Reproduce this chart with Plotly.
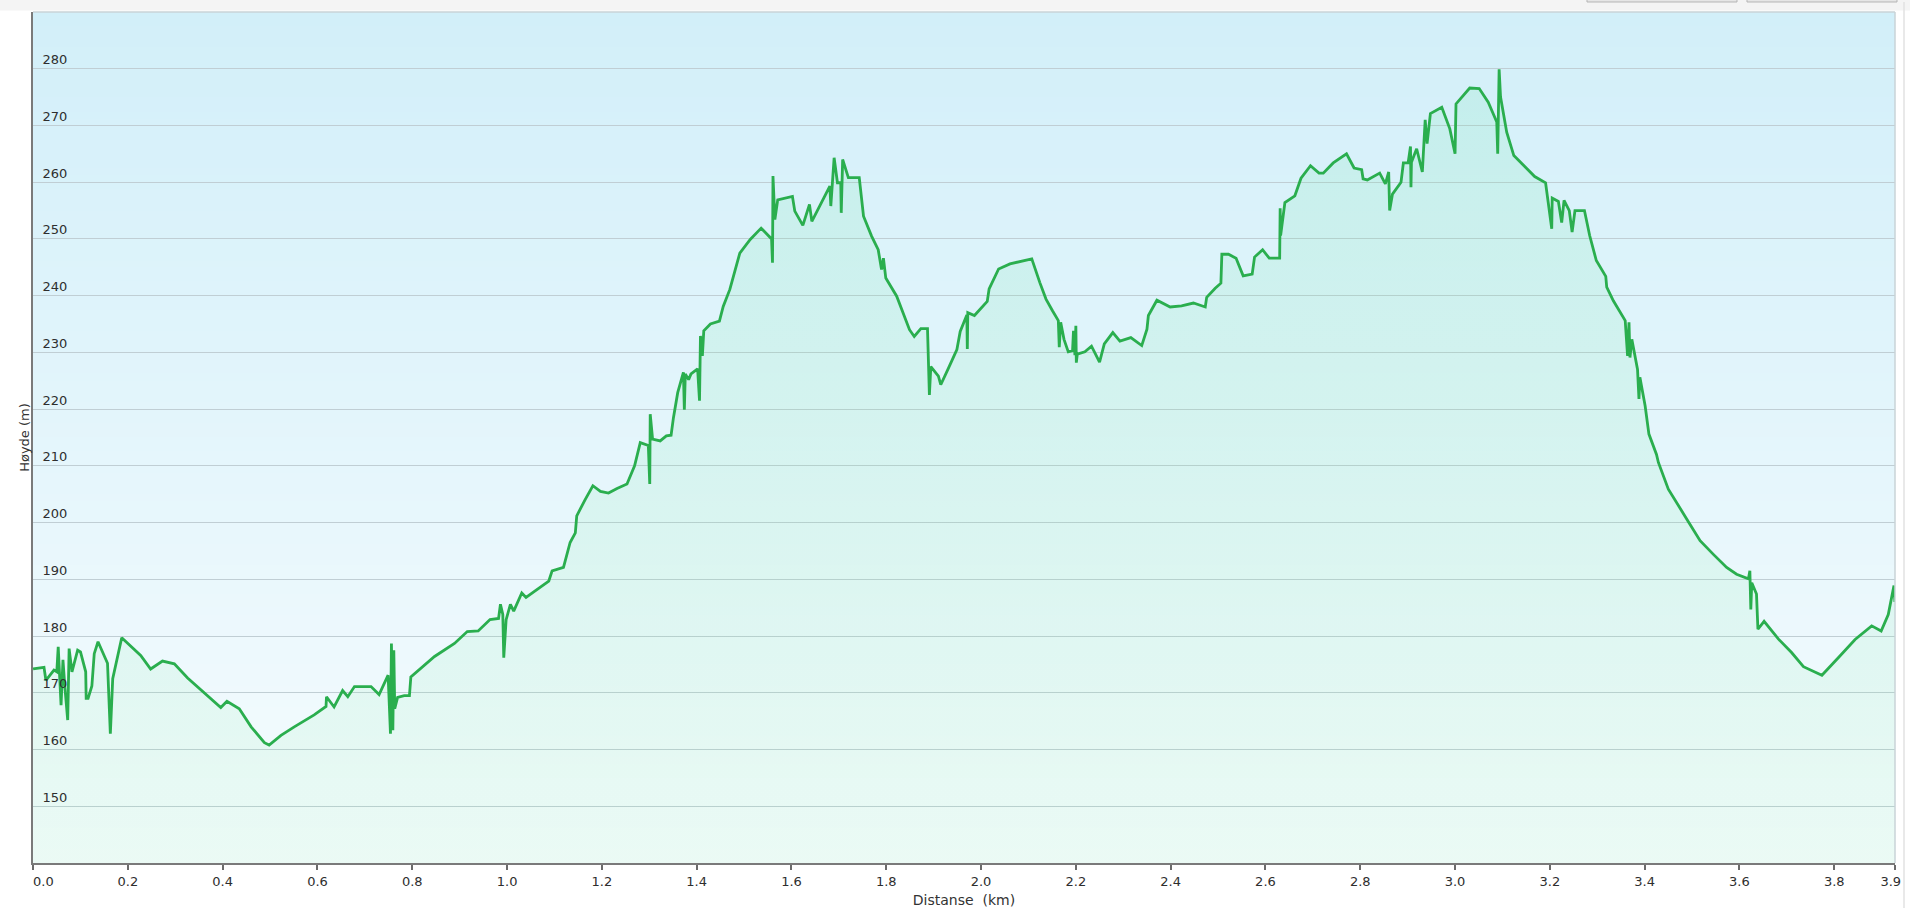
import plotly.graph_objects as go

# ---------------- data ----------------
DIST_KM = [
    0.000, 0.023, 0.027, 0.044, 0.050, 0.053, 0.059, 0.063, 0.067, 0.073,
    0.076, 0.082, 0.094, 0.100, 0.111, 0.112, 0.116, 0.124, 0.129, 0.137,
    0.157, 0.163, 0.168, 0.187, 0.227, 0.248, 0.273, 0.298, 0.326, 0.396,
    0.409, 0.435, 0.460, 0.488, 0.498, 0.523, 0.551, 0.593, 0.618, 0.619,
    0.635, 0.653, 0.664, 0.678, 0.713, 0.730, 0.749, 0.754, 0.756, 0.759,
    0.761, 0.763, 0.769, 0.783, 0.794, 0.797, 0.847, 0.889, 0.916, 0.939,
    0.964, 0.982, 0.986, 0.991, 0.993, 0.998, 1.007, 1.014, 1.031, 1.040,
    1.088, 1.095, 1.119, 1.133, 1.144, 1.147, 1.165, 1.181, 1.197, 1.214,
    1.232, 1.253, 1.269, 1.281, 1.298, 1.301, 1.302, 1.307, 1.323, 1.336,
    1.346, 1.351, 1.360, 1.372, 1.374, 1.376, 1.383, 1.388, 1.402, 1.406,
    1.408, 1.412, 1.415, 1.429, 1.448, 1.456, 1.470, 1.491, 1.513, 1.536,
    1.558, 1.560, 1.561, 1.565, 1.571, 1.602, 1.607, 1.624, 1.638, 1.643,
    1.681, 1.683, 1.690, 1.697, 1.704, 1.705, 1.708, 1.720, 1.743, 1.752,
    1.769, 1.783, 1.790, 1.794, 1.799, 1.822, 1.849, 1.859, 1.873, 1.887,
    1.891, 1.894, 1.910, 1.915, 1.931, 1.949, 1.956, 1.970, 1.971, 1.972,
    1.986, 2.013, 2.017, 2.037, 2.061, 2.107, 2.124, 2.137, 2.151, 2.163,
    2.165, 2.168, 2.175, 2.184, 2.193, 2.195, 2.198, 2.200, 2.201, 2.203,
    2.219, 2.233, 2.250, 2.260, 2.278, 2.293, 2.316, 2.339, 2.350, 2.353,
    2.371, 2.399, 2.423, 2.448, 2.473, 2.476, 2.494, 2.506, 2.508, 2.522,
    2.538, 2.553, 2.572, 2.577, 2.594, 2.608, 2.630, 2.631, 2.632, 2.641,
    2.662, 2.675, 2.695, 2.713, 2.722, 2.743, 2.771, 2.787, 2.803, 2.806,
    2.815, 2.841, 2.853, 2.860, 2.862, 2.868, 2.886, 2.891, 2.901, 2.906,
    2.907, 2.908, 2.919, 2.931, 2.937, 2.941, 2.948, 2.972, 2.989, 3.000,
    3.002, 3.031, 3.051, 3.070, 3.088, 3.090, 3.093, 3.096, 3.109, 3.124,
    3.168, 3.191, 3.204, 3.205, 3.218, 3.225, 3.230, 3.241, 3.247, 3.253,
    3.273, 3.284, 3.298, 3.318, 3.320, 3.334, 3.359, 3.364, 3.367, 3.369,
    3.373, 3.385, 3.388, 3.390, 3.401, 3.409, 3.425, 3.429, 3.450, 3.489,
    3.517, 3.545, 3.573, 3.594, 3.619, 3.622, 3.624, 3.626, 3.636, 3.639,
    3.652, 3.682, 3.710, 3.735, 3.774, 3.812, 3.844, 3.879, 3.899, 3.914,
    3.923, 3.926, 3.928,
]
ELEV_M = [
    174.2, 174.5, 172.2, 174.0, 173.7, 178.1, 167.8, 175.8, 171.1, 165.2,
    177.8, 173.7, 177.5, 177.2, 173.7, 169.0, 169.0, 171.2, 176.9, 179.0,
    175.2, 162.8, 172.5, 179.7, 176.6, 174.2, 175.6, 175.1, 172.6, 167.4,
    168.5, 167.2, 164.0, 161.2, 160.8, 162.5, 164.0, 166.1, 167.6, 169.3,
    167.5, 170.4, 169.3, 171.1, 171.1, 169.7, 173.1, 162.8, 178.7, 163.4,
    177.5, 167.2, 169.2, 169.5, 169.5, 172.8, 176.4, 178.7, 180.8, 180.9,
    182.9, 183.1, 185.6, 183.8, 176.2, 182.9, 185.6, 184.4, 187.6, 186.8,
    189.7, 191.5, 192.1, 196.5, 198.2, 201.2, 204.1, 206.5, 205.5, 205.2,
    206.0, 206.8, 210.0, 214.1, 213.6, 206.8, 219.1, 214.7, 214.4, 215.3,
    215.4, 218.5, 222.9, 226.5, 219.9, 226.2, 225.2, 226.2, 227.1, 221.5,
    232.9, 229.4, 233.8, 235.0, 235.5, 238.1, 241.1, 247.5, 249.9, 251.9,
    250.0, 245.8, 261.1, 253.4, 256.9, 257.5, 254.9, 252.4, 256.1, 253.1,
    259.3, 255.8, 264.3, 259.9, 259.9, 254.6, 264.0, 260.8, 260.8, 254.0,
    250.5, 248.1, 244.6, 246.6, 243.1, 239.9, 234.0, 232.8, 234.2, 234.2,
    222.5, 227.5, 225.8, 224.3, 227.2, 230.5, 233.7, 236.6, 230.6, 237.0,
    236.5, 239.0, 241.2, 244.7, 245.6, 246.5, 242.3, 239.4, 237.3, 235.6,
    230.9, 235.3, 232.3, 230.1, 230.3, 233.8, 229.5, 234.7, 228.2, 229.7,
    230.1, 231.1, 228.3, 231.5, 233.5, 232.0, 232.6, 231.2, 234.1, 236.5,
    239.2, 238.0, 238.2, 238.7, 238.0, 239.7, 241.3, 242.2, 247.3, 247.3,
    246.6, 243.5, 243.8, 246.8, 248.1, 246.6, 246.6, 255.4, 250.6, 256.4,
    257.6, 260.7, 262.9, 261.6, 261.6, 263.4, 265.0, 262.5, 262.2, 260.6,
    260.4, 261.6, 259.7, 261.8, 255.0, 257.9, 260.0, 263.4, 263.4, 266.3,
    259.1, 263.5, 265.9, 261.8, 271.0, 266.8, 272.1, 273.2, 269.4, 265.0,
    273.8, 276.6, 276.5, 274.1, 270.6, 265.0, 279.9, 275.0, 268.8, 264.7,
    261.0, 259.9, 251.8, 257.2, 256.6, 252.9, 256.8, 255.0, 251.2, 255.0,
    255.0, 250.6, 246.2, 243.4, 241.5, 239.1, 235.6, 229.4, 235.3, 229.1,
    232.3, 227.0, 221.8, 225.6, 220.6, 215.6, 212.0, 210.6, 205.9, 200.6,
    196.8, 194.4, 192.1, 190.9, 190.1, 191.5, 184.7, 189.4, 187.4, 181.2,
    182.6, 179.5, 177.1, 174.6, 173.1, 176.5, 179.4, 181.8, 180.9, 183.8,
    187.3, 188.9, 186.0,
]
Y_TICKS = [150, 160, 170, 180, 190, 200, 210, 220, 230, 240, 250, 260, 270, 280]
X_TICKS = [0.0, 0.2, 0.4, 0.6, 0.8, 1.0, 1.2, 1.4, 1.6, 1.8, 2.0,
           2.2, 2.4, 2.6, 2.8, 3.0, 3.2, 3.4, 3.6, 3.8, 3.928]
X_TICK_LABELS = ["\u00a0\u00a0\u00a0\u00a0\u00a00.0", "0.2", "0.4", "0.6", "0.8", "1.0",
                 "1.2", "1.4", "1.6", "1.8", "2.0", "2.2", "2.4", "2.6", "2.8",
                 "3.0", "3.2", "3.4", "3.6", "3.8", "3.9\u00a0\u00a0"]
X_TITLE = "Distanse\u00a0 (km)"
Y_TITLE = "Høyde (m)"
Y_RANGE = [140, 290]

# ---------------- figure ----------------
FONT = "DejaVu Sans, Verdana, sans-serif"
fig = go.Figure()
fig.add_trace(go.Scatter(
    x=DIST_KM, y=ELEV_M, mode="lines",
    line=dict(color="#2aae4e", width=2.8),
    fill="tozeroy",
    fillgradient=dict(type="vertical",
                      colorscale=[[0, "rgba(120,232,150,0.09)"],
                                  [1, "rgba(100,226,160,0.15)"]],
                      start=Y_RANGE[0], stop=280),
    hoverinfo="skip", showlegend=False,
))

# background vertical gradient (light blue at top to near-white at bottom)
shapes = []
N = 120
top_c = (210, 239, 249)
bot_c = (246, 252, 254)
for i in range(N):
    t = (i + 0.5) / N
    c = tuple(round(bot_c[k] + (top_c[k] - bot_c[k]) * t) for k in range(3))
    shapes.append(dict(type="rect", xref="paper", yref="paper",
                       x0=0, x1=1, y0=i / N, y1=min(1, (i + 1) / N + 0.003),
                       fillcolor="rgb(%d,%d,%d)" % c, line=dict(width=0),
                       layer="below"))
# light border on top / right of the plot
shapes.append(dict(type="line", xref="paper", yref="paper", x0=0, x1=1, y0=1, y1=1,
                   line=dict(color="#c9d3d7", width=1.5), layer="above"))
shapes.append(dict(type="line", xref="paper", yref="paper", x0=1, x1=1, y0=0, y1=1,
                   line=dict(color="#c9d3d7", width=1.5), layer="above"))
# page chrome: top band, button edges, right rule
ph = 851.0
pw = 1862.0
shapes.append(dict(type="rect", xref="paper", yref="paper", x0=-0.02, x1=1.01,
                   y0=1 + 1.5 / ph, y1=1 + 13 / ph, fillcolor="#f4f4f4",
                   line=dict(width=0), layer="below"))
for xa, xb in [(1587, 1737), (1747, 1897)]:
    shapes.append(dict(type="rect", xref="paper", yref="paper",
                       x0=(xa - 33) / pw, x1=(xb - 33) / pw,
                       y0=1 + 10 / ph, y1=1 + 14 / ph, fillcolor="#e6e6e6",
                       line=dict(color="#b5b5b5", width=1), layer="above"))
shapes.append(dict(type="line", xref="paper", yref="paper",
                   x0=(1904 - 33) / pw, x1=(1904 - 33) / pw,
                   y0=-45 / ph, y1=1 + 10 / ph,
                   line=dict(color="#e2e2e2", width=1.5), layer="above"))

fig.update_layout(
    width=1910, height=908,
    margin=dict(l=33, r=15, t=12, b=45, autoexpand=False),
    paper_bgcolor="white", plot_bgcolor="rgba(0,0,0,0)",
    font=dict(family=FONT, size=13, color="#333333"),
    showlegend=False,
    shapes=shapes,
    xaxis=dict(
        range=[-0.0002, X_TICKS[-1] + 0.0002], tickmode="array", tickvals=X_TICKS,
        ticktext=X_TICK_LABELS, ticklabeloverflow="allow",
        ticks="outside", ticklen=5, tickwidth=1.5, tickcolor="#6b6b6b",
        showgrid=False, zeroline=False, showline=True, linecolor="#7a7a7a", linewidth=2,
        tickfont=dict(family=FONT, size=13, color="#2e2e2e"),
        title=dict(text=X_TITLE, font=dict(family=FONT, size=14, color="#333333"), standoff=20),
        automargin=False, fixedrange=True,
    ),
    yaxis=dict(
        range=Y_RANGE, tickmode="array", tickvals=Y_TICKS,
        ticklabelposition="inside", ticklabelshift=-9, ticklabelstandoff=9, ticks="",
        ticklabeloverflow="allow",
        showgrid=True, gridcolor="#c0ced4", gridwidth=1.4,
        zeroline=False, showline=True, linecolor="#7a7a7a", linewidth=2,
        tickfont=dict(family=FONT, size=13, color="#2e2e2e"),
        title=dict(text=Y_TITLE, font=dict(family=FONT, size=13, color="#333333"), standoff=10),
        automargin=False, fixedrange=True,
    ),
)

fig.write_html("out.html", config={"displayModeBar": False},
               post_script="document.body.style.margin='0';document.body.style.overflow='hidden';")
